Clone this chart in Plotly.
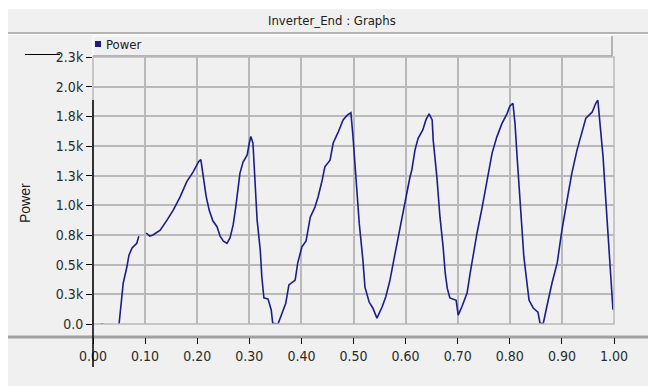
import plotly.graph_objects as go

# Inverter output power over one second of simulation
time_s = [
    0.015, 0.020, None,
    0.050, 0.054, 0.058, 0.065, 0.069, 0.075, 0.084, 0.088, None,
    0.102, 0.109, 0.115, 0.129, 0.142, 0.154, 0.167, 0.180, 0.192, 0.203,
    0.207, 0.211, 0.217, 0.223, 0.230, 0.238, 0.244, 0.250, 0.257, 0.263,
    0.269, 0.274, 0.278, 0.282, 0.288, 0.296, 0.300, 0.303, 0.307, 0.311,
    0.315, 0.321, 0.324, 0.328, 0.336, 0.342, 0.345, 0.355, 0.363, 0.370,
    0.376, 0.388, 0.393, 0.401, 0.409, 0.417, 0.426, 0.432, 0.440, 0.445,
    0.455, 0.461, 0.470, 0.480, 0.488, 0.495, 0.499, 0.505, 0.511, 0.518,
    0.522, 0.530, 0.537, 0.545, 0.555, 0.562, 0.570, 0.580, 0.587, 0.595,
    0.603, 0.608, 0.612, 0.618, 0.624, 0.633, 0.639, 0.645, 0.651, 0.653,
    0.660, 0.666, 0.672, 0.676, 0.680, 0.685, 0.697, 0.701, 0.708, 0.718,
    0.724, 0.731, 0.737, 0.747, 0.756, 0.766, 0.775, 0.785, 0.795, 0.800,
    0.806, 0.810, 0.814, 0.818, 0.823, 0.827, 0.833, 0.837, 0.845, 0.854,
    0.858, 0.864, 0.871, 0.881, 0.891, 0.900, 0.910, 0.919, 0.929, 0.939,
    0.946, 0.958, 0.965, 0.969, 0.973, 0.979, 0.983, 0.987, 0.992, 0.998,
]
power_w = [
    0, 0, None,
    0, 200, 345, 480, 580, 640, 680, 740, None,
    767, 740, 750, 790, 875, 960, 1070, 1200, 1280, 1370,
    1385, 1270, 1080, 960, 870, 820, 740, 700, 680, 725,
    835, 985, 1155, 1270, 1365, 1425, 1525, 1580, 1525, 1240,
    875, 625, 400, 220, 210, 120, 5, 0, 90, 175,
    330, 370, 515, 650, 700, 900, 985, 1070, 1215, 1325,
    1380, 1525, 1610, 1720, 1760, 1780, 1580, 1215, 850, 540,
    310, 185, 135, 50, 145, 230, 370, 600, 765, 935,
    1130, 1230, 1300, 1465, 1565, 1635, 1720, 1770, 1720, 1550,
    1240, 900, 650, 430, 300, 220, 200, 75, 145, 260,
    430, 625, 765, 985, 1215, 1440, 1575, 1690, 1775, 1835,
    1860, 1690, 1410, 1130, 850, 565, 345, 200, 135, 100,
    8, 0, 145, 345, 515, 790, 1045, 1270, 1465, 1635,
    1735, 1785, 1860, 1885, 1690, 1410, 1130, 850, 455, 120,
]

x_tick_vals = [0.0, 0.1, 0.2, 0.3, 0.4, 0.5, 0.6, 0.7, 0.8, 0.9, 1.0]
x_tick_text = ["0.00", "0.10", "0.20", "0.30", "0.40", "0.50",
               "0.60", "0.70", "0.80", "0.90", "1.00"]
y_tick_vals = [0, 250, 500, 750, 1000, 1250, 1500, 1750, 2000, 2250]
y_tick_text = ["0.0", "0.3k", "0.5k", "0.8k", "1.0k",
               "1.3k", "1.5k", "1.8k", "2.0k", "2.3k"]

W, H = 653, 386
LEFT, RIGHT = 93, 614      # plot area, pixels
TOP, AXIS_Y = 57, 337      # top of grid, x-axis baseline
GRID_BOTTOM = 324          # zero line of the grid

NARROW = "Liberation Sans Narrow, Arial Narrow, DejaVu Sans Condensed, sans-serif"
REGULAR = "Liberation Sans, Arial, sans-serif"
PANEL = "#f0f0f0"
EDGE = "#a0a0a0"
GRID = "#b9b9b9"
LINE = "#1c1c8f"
TEXT = "#2b2b2b"


def px(X):
    return (X - LEFT) / (RIGHT - LEFT)


def py(Y):
    return (AXIS_Y - Y) / (AXIS_Y - TOP)


fig = go.Figure()
fig.add_trace(go.Scatter(
    x=time_s, y=power_w, mode="lines", connectgaps=False,
    line=dict(color=LINE, width=1.6), showlegend=False, hoverinfo="skip",
))


def rect(x0, y0, x1, y1, fill=None, color=None, width=0, layer="below"):
    return dict(type="rect", xref="paper", yref="paper",
                x0=px(x0), x1=px(x1), y0=py(y1), y1=py(y0),
                fillcolor=fill or "rgba(0,0,0,0)",
                line=dict(color=color or "rgba(0,0,0,0)", width=width),
                layer=layer)


def seg(x0, y0, x1, y1, color, width, layer="above"):
    return dict(type="line", xref="paper", yref="paper",
                x0=px(x0), x1=px(x1), y0=py(y0), y1=py(y1),
                line=dict(color=color, width=width), layer=layer)


shapes = [
    # window panel
    rect(8, 8, 648, 386, fill=PANEL),
    seg(8, 8.5, 648, 8.5, "#ffffff", 1, "below"),
    # title bar divider
    seg(8, 33, 648, 33, EDGE, 1.5, "below"),
    seg(8, 34.5, 648, 34.5, "#ffffff", 1, "below"),
    # legend strip with raised edges
    seg(93, 36, 612, 36, "#ffffff", 1, "below"),
    seg(93, 36, 93, 56, "#ffffff", 1, "below"),
    seg(612, 36, 612, 56, EDGE, 1.5, "below"),
    seg(93, 56, 612, 56, EDGE, 1.5, "below"),
    rect(95, 41, 101, 47, fill=LINE, layer="above"),
    # plot frame
    rect(LEFT, TOP, RIGHT, GRID_BOTTOM, color=GRID, width=1.5, layer="above"),
    # x-axis baseline bar
    seg(8, AXIS_Y, 648, AXIS_Y, EDGE, 3, "below"),
    # left axis rule
    seg(LEFT, 100, LEFT, 367, "#000000", 1.5),
    # series key line in the corner
    seg(25, 54.5, 60, 54.5, "#000000", 1),
]

annotations = [
    dict(text="Inverter_End : Graphs", xref="paper", yref="paper",
         x=px(332), y=py(20), xanchor="center", yanchor="middle",
         showarrow=False, font=dict(family=NARROW, size=13, color="#202020")),
    dict(text="Power", xref="paper", yref="paper",
         x=px(104), y=py(45), xanchor="left", yanchor="middle",
         showarrow=False, font=dict(family=NARROW, size=13, color="#202020")),
    dict(text="Power", xref="paper", yref="paper", textangle=-90,
         x=px(25), y=py(203), xanchor="center", yanchor="middle",
         showarrow=False, font=dict(family=REGULAR, size=14, color="#202020")),
]

fig.update_layout(
    width=W, height=H,
    margin=dict(l=LEFT, r=W - RIGHT, t=TOP, b=H - AXIS_Y, pad=0),
    paper_bgcolor="#ffffff", plot_bgcolor="#ffffff",
    shapes=shapes, annotations=annotations, showlegend=False,
    xaxis=dict(
        range=[0, 1], anchor="free", position=0,
        tickmode="array", tickvals=x_tick_vals, ticktext=x_tick_text,
        ticks="outside", ticklen=6, tickwidth=1.2, tickcolor="#000000",
        showgrid=True, gridcolor=GRID, gridwidth=1.5,
        zeroline=False, showline=False,
        tickfont=dict(family=NARROW, size=14, color=TEXT),
    ),
    yaxis=dict(
        range=[0, 2250], domain=[(AXIS_Y - GRID_BOTTOM) / (AXIS_Y - TOP), 1],
        anchor="x",
        tickmode="array", tickvals=y_tick_vals, ticktext=y_tick_text,
        ticks="outside", ticklen=6, tickwidth=1.2, tickcolor="#000000",
        showgrid=True, gridcolor=GRID, gridwidth=1.5,
        zeroline=False, showline=False,
        tickfont=dict(family=NARROW, size=14, color=TEXT),
    ),
)

fig.write_html("out.html")
